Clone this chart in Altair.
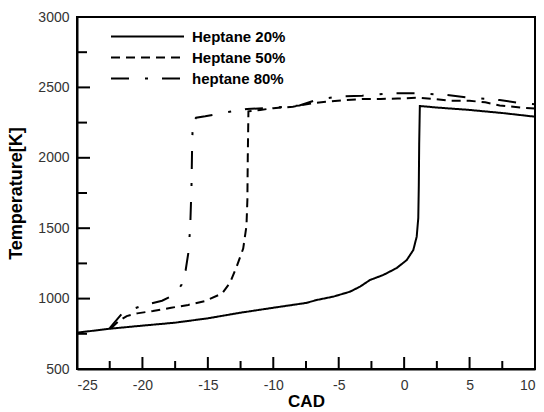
import altair as alt
import pandas as pd

series_names = ["Heptane 20%", "Heptane 50%", "heptane 80%"]

cad_20 = [-25, -22.5, -20, -17.5, -15, -12.5, -10, -7.5, -6.68, -5.41, -4.14, -3.37, -2.61,
          -1.59, -0.57, 0.2, 0.7, 0.96, 1.08, 1.12, 1.15, 1.2, 2.5, 5, 7.5, 10]
temp_20 = [758, 786, 808, 829, 860, 900, 935, 969, 990, 1014, 1049, 1085, 1132,
           1168, 1217, 1274, 1345, 1440, 1572, 1800, 2100, 2368, 2357, 2340, 2318, 2292]

cad_50 = [-22.4, -21.8, -21.2, -20.4, -19.2, -17.8, -16.5, -15.2, -13.9, -13.3, -12.8, -12.3,
          -12.05, -11.98, -11.95, -11.9, -11.0, -10.0, -8.5, -7.0, -6.0, -4.5, -3.0, -1.8,
          -0.5, 1.0, 2.3, 3.6, 5.0, 6.2, 7.3, 9.0, 10.0]
temp_50 = [790, 841, 876, 895, 912, 935, 955, 983, 1037, 1113, 1227, 1355,
           1516, 1700, 2000, 2330, 2340, 2352, 2363, 2387, 2398, 2410, 2418, 2418,
           2421, 2427, 2418, 2405, 2405, 2394, 2372, 2356, 2350]

cad_80 = [-22.5, -21.5, -20.0, -18.5, -17.5, -17.0, -16.7, -16.5, -16.35, -16.25, -16.2,
          -16.15, -15.9, -15.2, -14.0, -12.0, -10.0, -8.0, -6.7, -5.2, -3.2, -1.1, 1.0,
          3.25, 5.0, 7.3, 9.0, 10.0]
temp_80 = [790, 900, 950, 985, 1030, 1100, 1200, 1320, 1500, 1800, 2100,
           2250, 2285, 2295, 2316, 2347, 2355, 2372, 2411, 2434, 2441, 2458, 2458,
           2446, 2427, 2410, 2387, 2380]

x_major = [-25, -20, -15, -10, -5, 0, 5, 10]
x_minor = [-22.5, -17.5, -12.5, -7.5, -2.5, 2.5, 7.5]
y_major = [500, 1000, 1500, 2000, 2500, 3000]
y_minor = [750, 1250, 1750, 2250, 2750]

rows = []
for name, xs, ys in zip(series_names, [cad_20, cad_50, cad_80], [temp_20, temp_50, temp_80]):
    for i, (a, b) in enumerate(zip(xs, ys)):
        rows.append({"series": name, "CAD": a, "T": b, "order": i})
df = pd.DataFrame(rows)

W, H = 458, 352
FONT = "Liberation Sans"
XMIN, XMAX, YMIN, YMAX = -25, 10, 500, 3000
kx = (XMAX - XMIN) / W   # data units per pixel
ky = (YMAX - YMIN) / H

# inward tick segments (two end points each), lengths in pixels
tick_rows = []
tid = 0
for vals, length in [(x_major, 12), (x_minor, 8)]:
    for v in vals:
        tick_rows.append({"id": tid, "k": 0, "CAD": v, "T": YMIN})
        tick_rows.append({"id": tid, "k": 1, "CAD": v, "T": YMIN + length * ky})
        tid += 1
for vals, length in [(y_major, 13), (y_minor, 10)]:
    for v in vals:
        tick_rows.append({"id": tid, "k": 0, "CAD": XMIN, "T": v})
        tick_rows.append({"id": tid, "k": 1, "CAD": XMIN + length * kx, "T": v})
        tid += 1
ticks_df = pd.DataFrame(tick_rows)

xscale = alt.Scale(domain=[XMIN, XMAX], nice=False, zero=False)
yscale = alt.Scale(domain=[YMIN, YMAX], nice=False, zero=False)

x_axis = alt.Axis(values=x_major, title="CAD", ticks=False, labelPadding=9, grid=False,
                  labelExpr="'' + datum.value",
                  domainColor="black", domainWidth=2, labelFont=FONT, labelFontSize=14,
                  labelColor="#333", titleFont=FONT, titleFontSize=17, titleFontWeight="bold",
                  titleColor="black", titlePadding=1)
y_axis = alt.Axis(values=y_major, title="Temperature[K]", ticks=False, labelPadding=8,
                  grid=False, labelExpr="'' + datum.value",
                  domainColor="black", domainWidth=2, labelFont=FONT, labelFontSize=14,
                  labelColor="#333", titleFont=FONT, titleFontSize=18, titleFontWeight="bold",
                  titleColor="black", titlePadding=12)

lines = alt.Chart(df).mark_line(strokeWidth=2, color="black", clip=True).encode(
    x=alt.X("CAD:Q", scale=xscale, axis=x_axis),
    y=alt.Y("T:Q", scale=yscale, axis=y_axis),
    detail="series:N",
    order="order:Q",
    strokeDash=alt.StrokeDash(
        "series:N",
        scale=alt.Scale(domain=series_names, range=[[1, 0], [9, 6], [18, 16, 3, 14]]),
        legend=alt.Legend(orient="none", legendX=33, legendY=9, title=None,
                          symbolType="stroke", symbolSize=5329, symbolStrokeWidth=2,
                          symbolStrokeColor="black", clipHeight=21, rowPadding=0,
                          labelFont=FONT, labelFontSize=15, labelFontWeight="bold",
                          labelColor="black", labelOffset=7),
    ),
)

ticks = alt.Chart(ticks_df).mark_line(strokeWidth=2, color="black").encode(
    x=alt.X("CAD:Q", scale=xscale, axis=x_axis),
    y=alt.Y("T:Q", scale=yscale, axis=y_axis),
    detail="id:N",
    order="k:Q",
)

chart = alt.layer(lines, ticks).properties(
    width=W, height=H,
    autosize=alt.AutoSizeParams(type="none"),
    padding={"left": 77, "top": 17, "right": 9, "bottom": 43},
    background="white",
).configure_view(stroke="black", strokeWidth=2)

chart.save("out.html", embed_options={"renderer": "svg", "actions": False})
